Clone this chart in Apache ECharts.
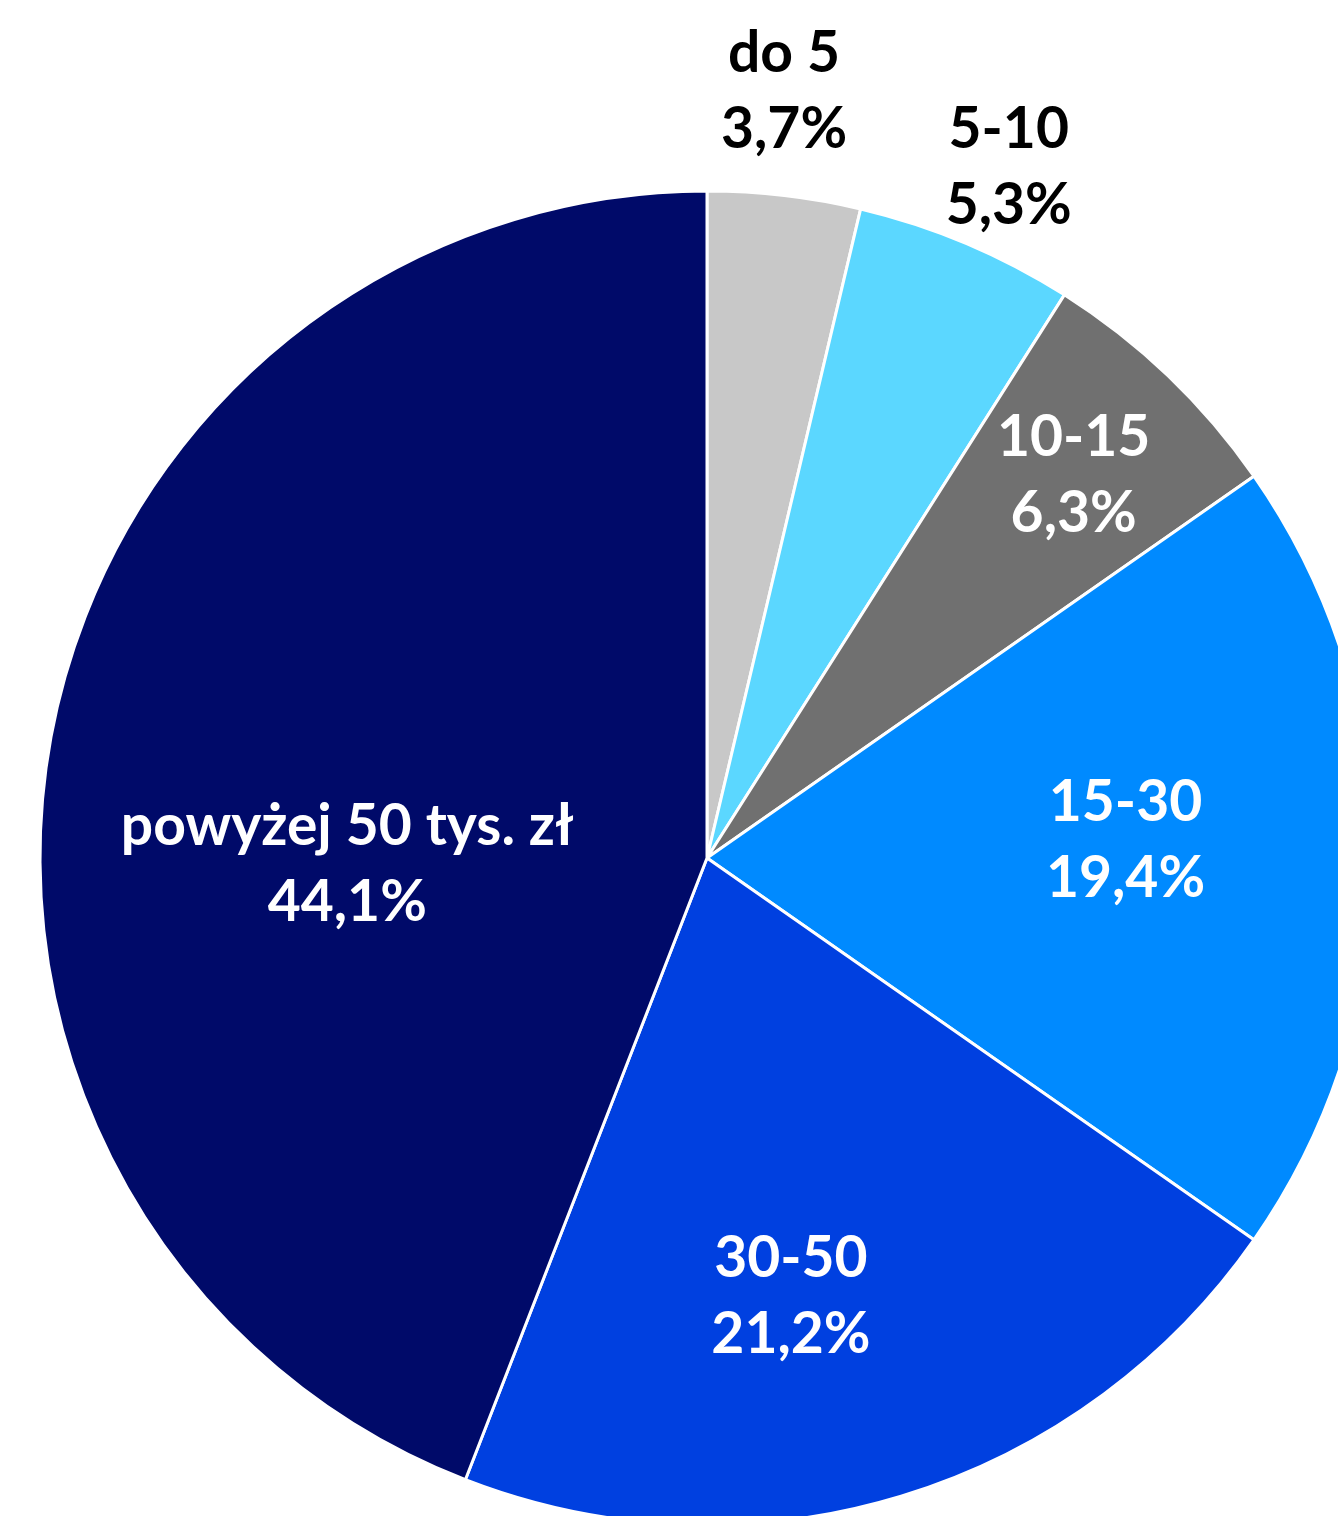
<!DOCTYPE html>
<html>
<head>
<meta charset="utf-8">
<script src="https://cdn.jsdelivr.net/npm/echarts@6/dist/echarts.min.js"></script>
<style>
    html, body { margin: 0; padding: 0; background: #fff; }
    #chart { width: 1338px; height: 1516px; }
</style>
</head>
<body>
<div id="chart"></div>
<script>
    // kategorie i udziały (%)
    var categories = ['do 5', '5-10', '10-15', '15-30', '30-50', 'powyżej 50 tys. zł'];
    var shares = [3.7, 5.3, 6.3, 19.4, 21.2, 44.1];
    var colors = ['#C8C8C8', '#5BD7FF', '#707070', '#008AFF', '#0040E0', '#000A69'];
    var labelColors = ['#000', '#000', '#fff', '#fff', '#fff', '#fff'];
    // przesunięcie etykiet względem domyślnej pozycji
    var labelOffsets = [[38, -432], [171, -380], [134, -139], [82, -17], [-14, 117], [-29, 69]];

    var myChart = echarts.init(document.getElementById('chart'));

    var data = [];
    for (var i = 0; i < categories.length; i++) {
        data.push({
            name: categories[i],
            value: shares[i],
            itemStyle: { color: colors[i] },
            label: { color: labelColors[i], offset: labelOffsets[i] }
        });
    }

    var option = {
        backgroundColor: '#fff',
        animation: false,
        series: [{
            type: 'pie',
            center: [707, 858],
            radius: 667,
            startAngle: 90,
            clockwise: true,
            avoidLabelOverlap: false,
            itemStyle: { borderColor: '#fff', borderWidth: 3 },
            label: {
                show: true,
                position: 'inside',
                fontFamily: 'Lato',
                fontWeight: 'bold',
                fontSize: 57,
                lineHeight: 76,
                align: 'center',
                formatter: function (p) {
                    return p.name + '\n' + p.value.toFixed(1).replace('.', ',') + '%';
                }
            },
            labelLine: { show: false },
            data: data
        }]
    };

    myChart.setOption(option);
</script>
</body>
</html>
